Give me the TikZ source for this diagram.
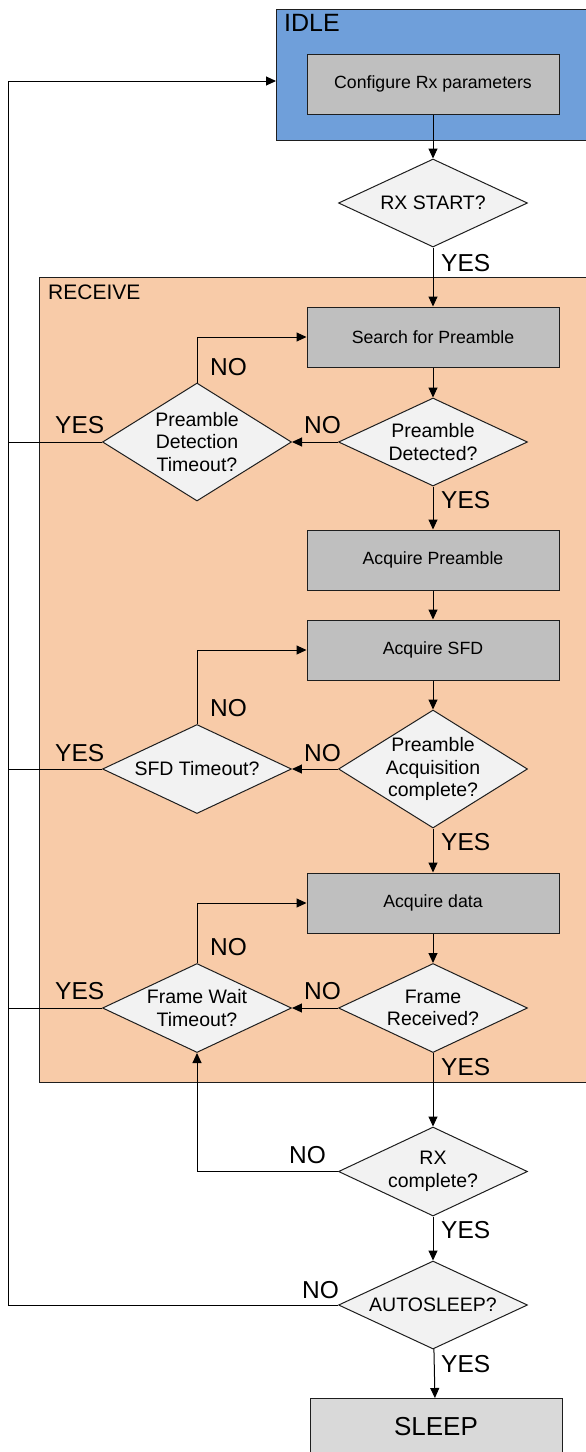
\documentclass[tikz,border=0pt]{standalone}
\usepackage{fontspec}
\setmainfont{Liberation Sans}
\usetikzlibrary{shapes.geometric,arrows.meta}
\definecolor{idleblue}{RGB}{111,159,218}
\definecolor{recpeach}{RGB}{248,203,168}
\definecolor{procgray}{RGB}{191,191,191}
\definecolor{decgray}{RGB}{242,242,242}
\definecolor{sleepgray}{RGB}{217,217,217}
\definecolor{edge}{RGB}{30,30,30}
\tikzset{
  proc/.style={draw=edge, line width=1pt, fill=procgray, minimum width=252pt, minimum height=60pt, inner sep=0pt, font=\fontsize{17.7}{21}\selectfont},
  dec/.style={diamond, draw=edge, line width=1pt, fill=decgray, minimum width=189pt, inner sep=-3pt, align=center, font=\fontsize{19.5}{22.5}\selectfont},
  dectwo/.style={dec, minimum height=89pt, shape aspect=2.12},
  decthree/.style={dec, minimum height=118pt, shape aspect=1.6},
  arr/.style={line width=1pt, draw=black, -{Triangle[length=10pt,width=9pt]}},
  ln/.style={line width=1pt, draw=black},
  lbl/.style={anchor=west, inner sep=0pt, font=\fontsize{24.5}{26}\selectfont},
}
\begin{document}
\begin{tikzpicture}[x=1pt,y=-1pt]
\clip (0,0) rectangle (586,1452);
\fill[white] (0,0) rectangle (586,1452);
% containers
\node[draw=edge, line width=1pt, fill=idleblue, anchor=north west, minimum width=330pt, minimum height=131pt, inner sep=0pt] (idle) at (276,9) {};
\node[anchor=west, inner sep=0pt, font=\fontsize{25}{28}\selectfont] (idlelbl) at (284,23) {IDLE};
\node[draw=edge, line width=1pt, fill=recpeach, anchor=north west, minimum width=570pt, minimum height=805pt, inner sep=0pt] (recv) at (39,277) {};
\node[anchor=west, inner sep=0pt, font=\fontsize{21}{24}\selectfont] (recvlbl) at (48,292) {RECEIVE};
% process boxes
\node[proc] (cfg) at (433,84) {Configure Rx parameters};
\node[proc] (search) at (433,337) {Search for Preamble};
\node[proc] (acqpre) at (433,560) {Acquire Preamble};
\node[proc] (acqsfd) at (433,650) {Acquire SFD};
\node[proc] (acqdata) at (433,903) {Acquire data};
\node[draw=edge, line width=1pt, fill=sleepgray, minimum width=252pt, minimum height=100pt, inner sep=0pt, anchor=north] (sleep) at (436,1398) {};
\node[inner sep=0pt, font=\fontsize{26}{30}\selectfont] (sleeplbl) at (436,1427) {SLEEP};
% decisions
\node[dectwo, minimum height=88pt] (rxstart) at (433,203) {RX START?};
\node[dectwo, minimum height=88pt] (pdet) at (433,442) {Preamble\\Detected?};
\node[decthree] (pdto) at (197,442) {Preamble\\Detection\\Timeout?};
\node[decthree] (pacq) at (433,769) {Preamble\\Acquisition\\complete?};
\node[dectwo] (sfdto) at (197,769) {SFD Timeout?};
\node[dectwo] (frecv) at (433,1008) {Frame\\Received?};
\node[dectwo] (fwto) at (197,1008) {Frame Wait\\Timeout?};
\node[dectwo] (rxc) at (433,1171.5) {RX\\complete?};
\node[dectwo, minimum height=88pt] (auto) at (433,1305) {AUTOSLEEP?};
\coordinate (fb) at (8,81);
% connectors
\draw[arr] (cfg) -- (rxstart);
\draw[arr] (rxstart) -- (search);
\draw[arr] (search) -- (pdet);
\draw[arr] (pdet) -- (pdto);
\draw[arr] (pdto.north) |- (search.west);
\draw[ln] (pdto.west) -- (pdto.west -| fb);
\draw[arr] (pdet) -- (acqpre);
\draw[arr] (acqpre) -- (acqsfd);
\draw[arr] (acqsfd) -- (pacq);
\draw[arr] (pacq) -- (sfdto);
\draw[arr] (sfdto.north) |- (acqsfd.west);
\draw[ln] (sfdto.west) -- (sfdto.west -| fb);
\draw[arr] (pacq) -- (acqdata);
\draw[arr] (acqdata) -- (frecv);
\draw[arr] (frecv) -- (fwto);
\draw[arr] (fwto.north) |- (acqdata.west);
\draw[ln] (fwto.west) -- (fwto.west -| fb);
\draw[arr] (frecv) -- (rxc);
\draw[arr] (rxc.west) -| (fwto.south);
\draw[arr] (rxc) -- (auto);
\draw[arr] (auto.west) -- (auto.west -| fb) -- (fb) -- (fb -| idle.west);
\draw[arr] (auto) -- (sleep);
% labels
\node[lbl] (y1) at (441,263) {YES};
\node[lbl] (n1) at (304,425) {NO};
\node[lbl] (n2) at (210,367) {NO};
\node[lbl] (y2) at (55,425) {YES};
\node[lbl] (y3) at (441,500) {YES};
\node[lbl] (n3) at (304,753) {NO};
\node[lbl] (n4) at (210,708) {NO};
\node[lbl] (y4) at (55,753) {YES};
\node[lbl] (y5) at (441,842) {YES};
\node[lbl] (n5) at (304,991) {NO};
\node[lbl] (n6) at (210,947) {NO};
\node[lbl] (y6) at (55,991) {YES};
\node[lbl] (y7) at (441,1067) {YES};
\node[lbl] (n7) at (289,1155) {NO};
\node[lbl] (y8) at (441,1230) {YES};
\node[lbl] (n8) at (302,1290) {NO};
\node[lbl] (y9) at (441,1364) {YES};
\end{tikzpicture}
\end{document}
